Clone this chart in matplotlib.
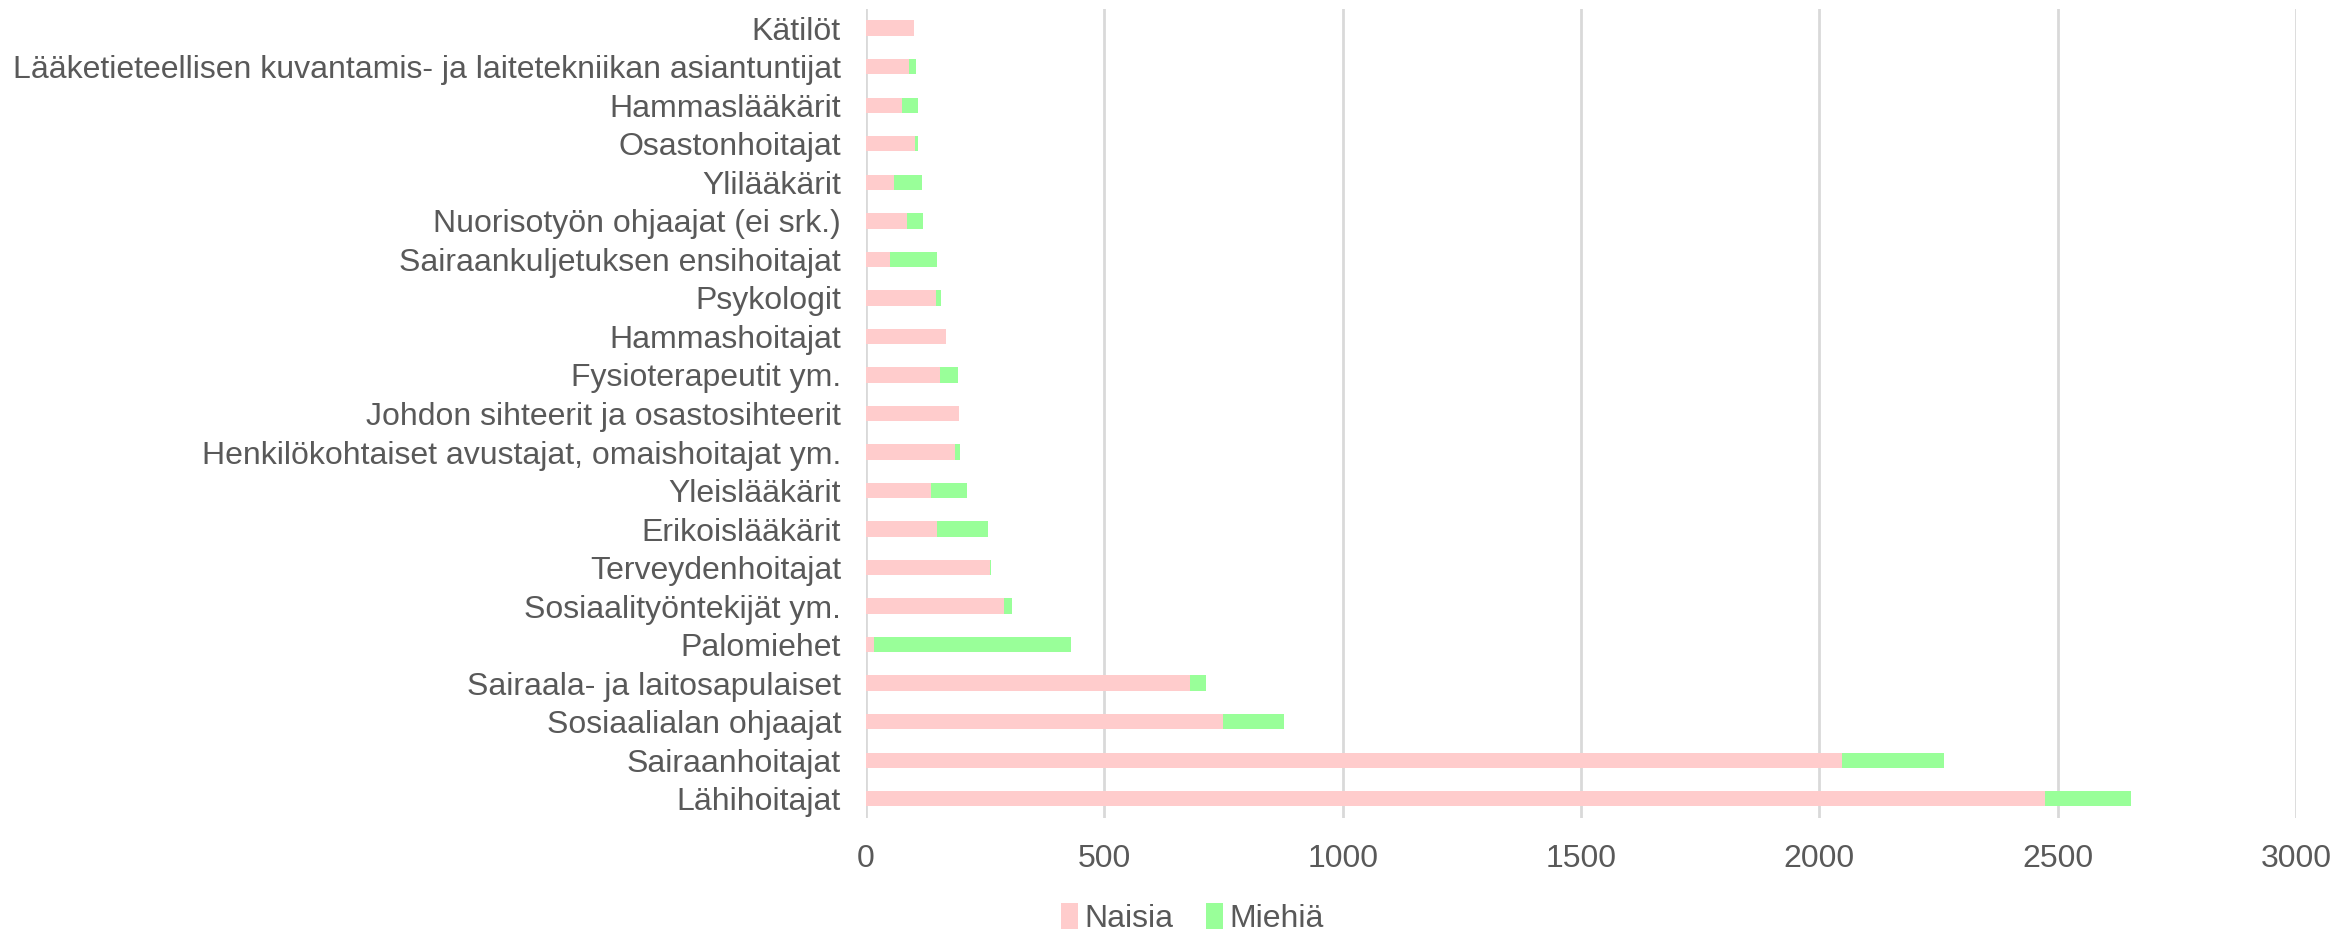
import numpy as np
import matplotlib.pyplot as plt

# --- data (bottom to top) ---
categories = [
  "Lähihoitajat",
  "Sairaanhoitajat",
  "Sosiaalialan ohjaajat",
  "Sairaala- ja laitosapulaiset",
  "Palomiehet",
  "Sosiaalityöntekijät ym.",
  "Terveydenhoitajat",
  "Erikoislääkärit",
  "Yleislääkärit",
  "Henkilökohtaiset avustajat, omaishoitajat ym.",
  "Johdon sihteerit ja osastosihteerit",
  "Fysioterapeutit ym.",
  "Hammashoitajat",
  "Psykologit",
  "Sairaankuljetuksen ensihoitajat",
  "Nuorisotyön ohjaajat (ei srk.)",
  "Ylilääkärit",
  "Osastonhoitajat",
  "Hammaslääkärit",
  "Lääketieteellisen kuvantamis- ja laitetekniikan asiantuntijat",
  "Kätilöt",
]
naisia = [2473, 2047, 748, 679, 17, 290, 260, 148, 136, 187, 196,
          156, 167, 147, 50, 85, 58, 102, 76, 90, 100]
miehia = [180, 215, 128, 35, 414, 16, 2, 109, 76, 11, 0,
          38, 1, 10, 100, 35, 60, 8, 34, 14, 0]

PINK = "#FFCCCC"
GREEN = "#99FF99"
TEXT = "#595959"

plt.rcParams["font.family"] = ["Liberation Sans", "DejaVu Sans"]

fig = plt.figure(figsize=(23.38, 9.30), dpi=100)
ax = fig.add_axes([0.3704, 0.1204, 0.6116, 0.8700])

y = np.arange(len(categories))
ax.barh(y, naisia, height=0.4, color=PINK, label="Naisia", zorder=3)
ax.barh(y, miehia, height=0.4, left=naisia, color=GREEN, label="Miehiä", zorder=3)

ax.set_xlim(0, 3000)
ax.set_ylim(-0.5, len(categories) - 0.5)
ax.set_xticks(np.arange(0, 3001, 500))
ax.set_yticks(y)
ax.set_yticklabels(categories)
ax.tick_params(axis="both", length=0, labelsize=23, colors=TEXT)
ax.tick_params(axis="x", pad=19)
ax.tick_params(axis="y", pad=18)
ax.grid(axis="x", color="#D9D9D9", linewidth=2, zorder=0)
for s in ax.spines.values():
  s.set_visible(False)

fig.legend(loc="lower center", bbox_to_anchor=(0.51, -0.035), ncol=2,
           frameon=False, fontsize=23, labelcolor=TEXT,
           handlelength=0.55, handleheight=0.9, handletextpad=0.2,
           columnspacing=1.0)

fig.savefig("out.png", dpi=100)
